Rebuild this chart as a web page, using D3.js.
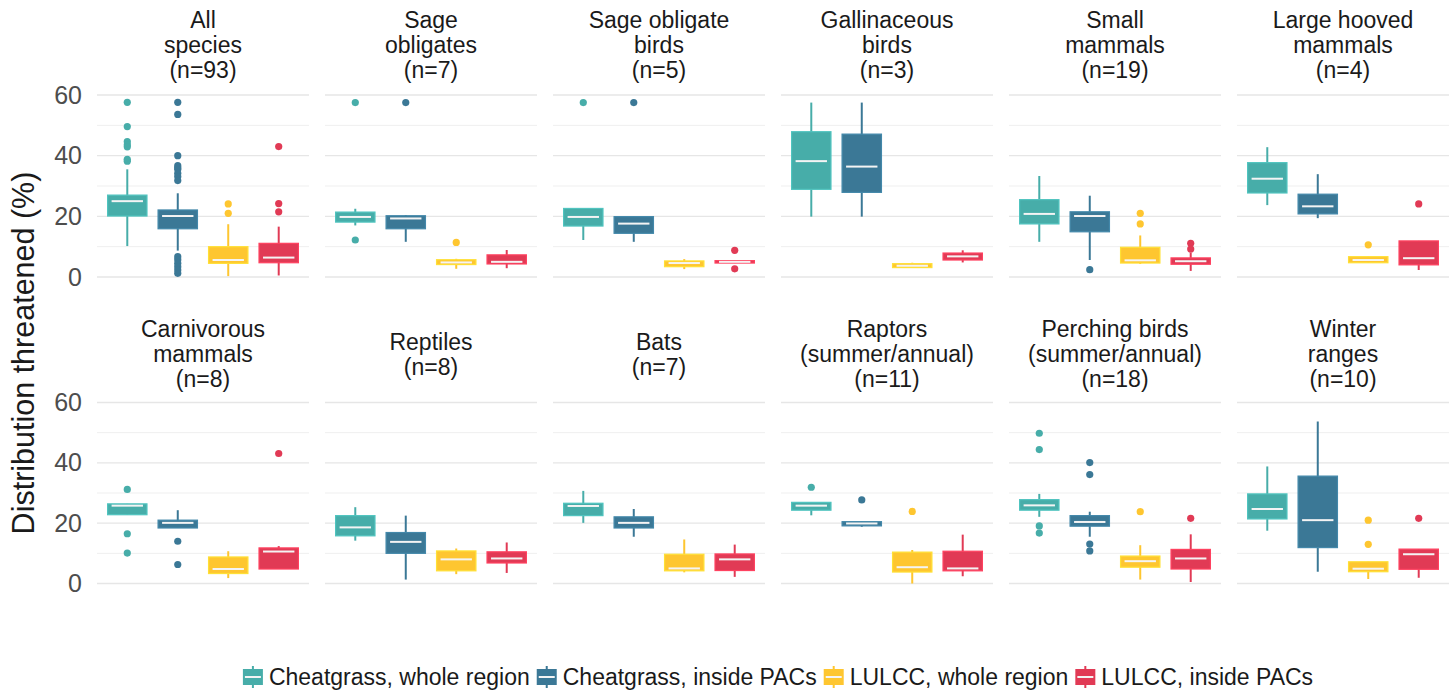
<!DOCTYPE html>
<html>
<head>
<meta charset="utf-8">
<script src="https://cdn.jsdelivr.net/npm/d3@7"></script>
<style>
  body { margin: 0; background: #fff; }
  text { font-family: "Liberation Sans", Arial, sans-serif; }
</style>
</head>
<body>
<div id="chart"></div>
<script>
// facet titles (one per panel, lines split by \n)
const panelTitles = [
  'All\nspecies\n(n=93)', 'Sage\nobligates\n(n=7)', 'Sage obligate\nbirds\n(n=5)',
  'Gallinaceous\nbirds\n(n=3)', 'Small\nmammals\n(n=19)', 'Large hooved\nmammals\n(n=4)',
  'Carnivorous\nmammals\n(n=8)', 'Reptiles\n(n=8)', 'Bats\n(n=7)',
  'Raptors\n(summer/annual)\n(n=11)', 'Perching birds\n(summer/annual)\n(n=18)', 'Winter\nranges\n(n=10)'
];
const seriesNames = ['Cheatgrass, whole region', 'Cheatgrass, inside PACs', 'LULCC, whole region', 'LULCC, inside PACs'];
const seriesColors = ['#47ADA9', '#3B7896', '#FEC630', '#E13A55'];
const yTicks = [0, 20, 40, 60];

// box stats per panel: [lower whisker, q1, median, q3, upper whisker]
const cheatWhole = [
  [10.2, 20.1, 25.0, 27.0, 35.5], [17.0, 18.1, 19.8, 21.4, 22.5], [12.2, 16.8, 19.8, 22.6, 22.6],
  [19.9, 28.9, 38.2, 47.9, 57.5], [11.6, 17.5, 20.8, 25.5, 33.3], [23.7, 27.7, 32.4, 37.7, 42.8],
  [22.8, 22.8, 25.8, 26.4, 26.4], [14.2, 15.8, 18.6, 22.5, 25.3], [20.1, 22.5, 25.7, 26.6, 30.7],
  [22.6, 24.3, 25.8, 26.9, 26.9], [22.1, 24.3, 25.9, 27.8, 29.7], [17.5, 21.4, 24.7, 29.7, 38.8]
];
const cheatPac = [
  [8.7, 15.9, 20.1, 22.1, 27.6], [11.6, 15.9, 19.3, 20.2, 20.4], [11.6, 14.4, 17.6, 19.9, 19.9],
  [19.9, 27.9, 36.4, 47.1, 57.5], [5.6, 14.9, 20.1, 21.5, 26.8], [19.4, 20.8, 23.3, 27.3, 33.9],
  [18.4, 18.4, 20.1, 21.0, 24.3], [1.3, 10.0, 13.8, 16.9, 22.5], [15.5, 18.4, 20.1, 22.1, 24.7],
  [18.8, 19.1, 19.9, 20.5, 20.5], [15.5, 19.0, 20.4, 22.5, 23.8], [3.9, 11.9, 21.0, 35.6, 53.7]
];
const lulccWhole = [
  [0.3, 4.5, 5.6, 10.0, 17.4], [2.7, 4.1, 4.8, 5.7, 6.0], [2.6, 3.4, 4.6, 5.3, 5.9],
  [3.1, 3.1, 3.7, 4.4, 4.7], [4.3, 4.6, 5.5, 9.8, 13.7], [4.7, 4.7, 5.6, 6.7, 6.7],
  [1.8, 3.3, 4.8, 8.8, 10.7], [3.1, 4.2, 8.0, 10.8, 11.6], [3.7, 4.2, 5.0, 9.7, 14.6],
  [0.0, 3.8, 5.4, 10.4, 11.1], [1.3, 5.4, 7.4, 9.1, 12.7], [1.5, 3.9, 4.9, 7.2, 7.2]
];
const lulccPac = [
  [0.5, 4.7, 6.4, 11.1, 16.6], [2.9, 4.3, 5.0, 7.3, 8.9], [4.6, 4.6, 5.0, 5.4, 5.4],
  [4.8, 5.6, 6.8, 7.9, 8.8], [2.0, 4.2, 5.2, 6.3, 8.0], [2.3, 4.0, 6.2, 11.9, 11.9],
  [4.8, 4.8, 10.6, 11.8, 12.4], [3.5, 6.8, 8.3, 10.5, 13.6], [2.2, 4.3, 8.0, 9.8, 12.9],
  [2.4, 4.2, 5.0, 10.7, 16.2], [0.5, 4.8, 8.3, 11.3, 16.3], [1.9, 4.7, 9.7, 11.4, 11.4]
];

// outlying points per panel
const cheatWholeOut = [
  [57.6, 49.6, 44.6, 43.6, 42.9, 38.8, 38.2], [57.5, 12.2], [57.5], [], [], [],
  [31.2, 16.5, 10.1], [], [], [31.9], [49.8, 44.4, 19.1, 16.7], []
];
const cheatPacOut = [
  [57.6, 53.6, 40.0, 36.7, 36.0, 35.5, 34.2, 33.1, 31.8, 6.7, 5.7, 4.5, 3.4, 2.3, 1.2],
  [57.5], [57.5], [], [2.4], [],
  [14.0, 6.3], [], [], [27.7], [40.1, 36.1, 13.1, 10.8], []
];
const lulccWholeOut = [
  [24.1, 21.0], [11.4], [], [], [21.0, 17.5], [10.6],
  [], [], [], [23.9], [23.8], [21.0, 13.0]
];
const lulccPacOut = [
  [43.0, 24.2, 21.5], [], [8.8, 2.7], [], [11.1, 9.2], [24.1],
  [43.1], [], [], [], [21.6], [21.6]
];

const boxStats = [cheatWhole, cheatPac, lulccWhole, lulccPac];
const outliers = [cheatWholeOut, cheatPacOut, lulccWholeOut, lulccPacOut];

const W = 1451;
const H = 692;
const nCols = 6;
const panelW = 212;
const panelStep = 228;
const panelLeft0 = 97;
const rows = [
  { y0: 277, y60: 95, stripMid: 45 },
  { y0: 583.5, y60: 402.5, stripMid: 354 }
];

const svg = d3.select('#chart').append('svg')
  .attr('width', W)
  .attr('height', H);

const x = d3.scalePoint()
  .domain(d3.range(seriesNames.length))
  .range([0, panelW])
  .padding(0.6);
const boxW = x.step() * 0.78;

panelTitles.forEach((title, p) => {
  const col = p % nCols;
  const row = rows[Math.floor(p / nCols)];
  const y = d3.scaleLinear().domain([0, 60]).range([row.y0, row.y60]);

  const g = svg.append('g')
    .attr('transform', `translate(${panelLeft0 + col * panelStep},0)`);

  // grid lines, minor then major
  g.selectAll('.minor')
    .data([10, 30, 50])
    .enter().append('line')
    .attr('x1', 0).attr('x2', panelW)
    .attr('y1', (d) => y(d)).attr('y2', (d) => y(d))
    .attr('stroke', '#efefef')
    .attr('stroke-width', 1);

  g.selectAll('.major')
    .data(yTicks)
    .enter().append('line')
    .attr('x1', 0).attr('x2', panelW)
    .attr('y1', (d) => y(d)).attr('y2', (d) => y(d))
    .attr('stroke', '#e6e6e6')
    .attr('stroke-width', 1.4);

  // y tick labels only in first column
  if (col === 0) {
    const yAxis = d3.axisLeft(y).tickValues(yTicks).tickSize(0).tickPadding(15);
    const ax = g.append('g').call(yAxis);
    ax.select('.domain').remove();
    ax.selectAll('text')
      .attr('font-size', 25)
      .attr('fill', '#4d4d4d')
      .attr('font-family', '"Liberation Sans", Arial, sans-serif');
  }

  // strip title
  const lines = title.split('\n');
  const lineH = 25;
  const strip = g.append('text')
    .attr('text-anchor', 'middle')
    .attr('font-size', 23)
    .attr('fill', '#1a1a1a');
  lines.forEach((ln, i) => {
    strip.append('tspan')
      .attr('x', panelW / 2)
      .attr('y', row.stripMid + (i - (lines.length - 1) / 2) * lineH + 8)
      .text(ln);
  });

  // boxes
  seriesNames.forEach((name, s) => {
    const st = boxStats[s][p];
    const c = seriesColors[s];
    const cx = x(s);

    g.append('line')
      .attr('x1', cx).attr('x2', cx)
      .attr('y1', y(st[0])).attr('y2', y(st[4]))
      .attr('stroke', c)
      .attr('stroke-width', 2);

    g.append('rect')
      .attr('x', cx - boxW / 2)
      .attr('y', y(st[3]))
      .attr('width', boxW)
      .attr('height', Math.max(y(st[1]) - y(st[3]), 1))
      .attr('fill', c)
      .attr('stroke', d3.color(c).brighter(0.35))
      .attr('stroke-width', 1.2);

    g.append('line')
      .attr('x1', cx - boxW / 2 + 4).attr('x2', cx + boxW / 2 - 4)
      .attr('y1', y(st[2])).attr('y2', y(st[2]))
      .attr('stroke', '#f4f4f4')
      .attr('stroke-width', 2);

    g.selectAll(null)
      .data(outliers[s][p])
      .enter().append('circle')
      .attr('cx', cx)
      .attr('cy', (d) => y(d))
      .attr('r', 3.6)
      .attr('fill', c);
  });
});

// y axis title
svg.append('text')
  .attr('transform', 'translate(34,353) rotate(-90)')
  .attr('text-anchor', 'middle')
  .attr('font-size', 30.5)
  .attr('fill', '#1a1a1a')
  .text('Distribution threatened (%)');

// legend
const legY = 677;
const keyS = 20;
const legend = svg.append('g');
let lx = 0;
seriesNames.forEach((name, s) => {
  const it = legend.append('g').attr('transform', `translate(${lx},0)`);
  it.append('line')
    .attr('x1', keyS / 2).attr('x2', keyS / 2)
    .attr('y1', legY - 11).attr('y2', legY + 11)
    .attr('stroke', seriesColors[s]).attr('stroke-width', 2);
  it.append('rect')
    .attr('x', 0).attr('y', legY - 8)
    .attr('width', keyS).attr('height', 16)
    .attr('fill', seriesColors[s]);
  it.append('line')
    .attr('x1', 2).attr('x2', keyS - 2)
    .attr('y1', legY).attr('y2', legY)
    .attr('stroke', '#f4f4f4').attr('stroke-width', 2);
  const t = it.append('text')
    .attr('x', keyS + 6)
    .attr('y', legY + 8)
    .attr('font-size', 23)
    .attr('fill', '#1a1a1a')
    .text(name);
  const tw = t.node().getComputedTextLength();
  lx += keyS + 6 + tw + 7;
});
const legW = lx - 7;
legend.attr('transform', `translate(${(243 + 1313) / 2 - legW / 2},0)`);
</script>
</body>
</html>
